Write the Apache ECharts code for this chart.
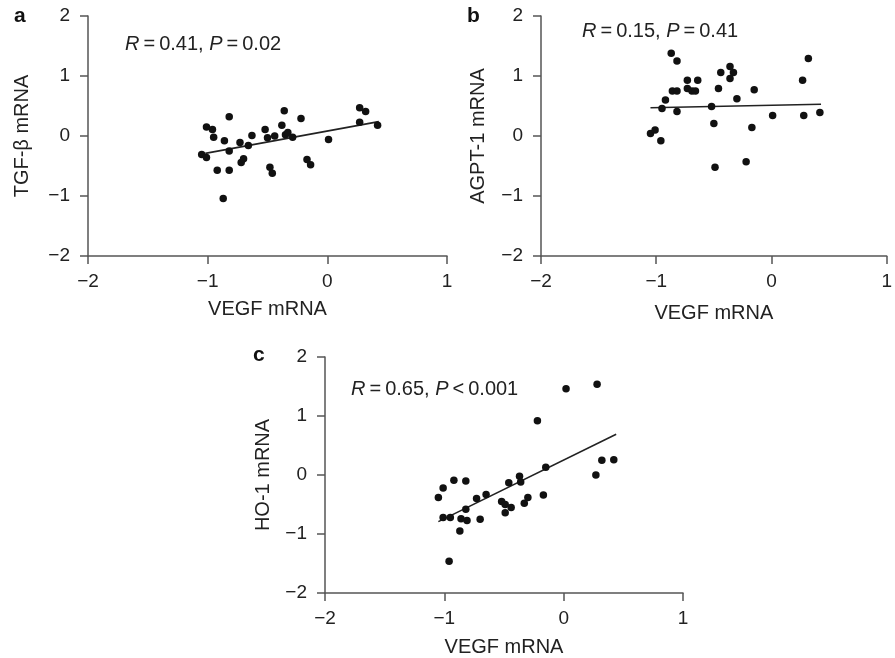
<!DOCTYPE html>
<html>
<head>
<meta charset="utf-8">
<script src="https://cdn.jsdelivr.net/npm/echarts@6/dist/echarts.min.js"></script>
<style>html,body{margin:0;padding:0;background:#fff}#chart{width:895px;height:658px}</style>
</head>
<body>
<div id="chart"></div>
<script>
// Panel a: TGF-beta vs VEGF
const xA = [-1.05,-1.01,-1.01,-0.96,-0.95,-0.92,-0.86,-0.87,-0.82,-0.82,-0.82,-0.73,-0.72,-0.70,-0.66,-0.63,-0.52,-0.50,-0.48,-0.46,-0.44,-0.38,-0.36,-0.35,-0.33,-0.29,-0.22,-0.17,-0.14,0.01,0.27,0.32,0.27,0.42];
const yA = [-0.31,-0.36,0.15,0.11,-0.02,-0.57,-0.08,-1.04,0.32,-0.25,-0.57,-0.11,-0.44,-0.38,-0.16,0.01,0.11,-0.03,-0.52,-0.62,0.00,0.18,0.42,0.02,0.06,-0.02,0.29,-0.39,-0.48,-0.06,0.47,0.41,0.23,0.18];
const fitXA = [-1.02, 0.43];
const fitYA = [-0.29, 0.24];

// Panel b: AGPT-1 vs VEGF
const xB = [-1.05,-1.01,-0.96,-0.95,-0.92,-0.87,-0.82,-0.86,-0.82,-0.82,-0.73,-0.73,-0.69,-0.66,-0.64,-0.52,-0.50,-0.49,-0.46,-0.44,-0.36,-0.36,-0.33,-0.30,-0.22,-0.17,-0.15,0.01,0.27,0.28,0.32,0.42];
const yB = [0.04,0.10,-0.08,0.46,0.60,1.38,1.25,0.75,0.75,0.41,0.93,0.79,0.75,0.75,0.93,0.49,0.21,-0.52,0.79,1.06,1.16,0.96,1.06,0.62,-0.43,0.14,0.77,0.34,0.93,0.34,1.29,0.39];
const fitXB = [-1.05, 0.43];
const fitYB = [0.47, 0.53];

// Panel c: HO-1 vs VEGF
const xC = [-1.05,-1.01,-1.01,-0.95,-0.96,-0.92,-0.86,-0.87,-0.82,-0.82,-0.81,-0.73,-0.70,-0.65,-0.52,-0.49,-0.49,-0.46,-0.44,-0.37,-0.36,-0.33,-0.30,-0.22,-0.17,-0.15,0.02,0.27,0.28,0.32,0.42];
const yC = [-0.38,-0.22,-0.72,-0.72,-1.46,-0.09,-0.74,-0.95,-0.10,-0.58,-0.77,-0.40,-0.75,-0.33,-0.45,-0.50,-0.64,-0.13,-0.55,-0.02,-0.12,-0.48,-0.38,0.92,-0.34,0.13,1.46,0.00,1.54,0.25,0.26];
const fitXC = [-1.05, 0.44];
const fitYC = [-0.79, 0.69];

const xTicks = [-2, -1, 0, 1];
const yTicks = [-2, -1, 0, 1, 2];
const panelLetters = ['a', 'b', 'c'];
const yNames = ['TGF-\u03b2 mRNA', 'AGPT-1 mRNA', 'HO-1 mRNA'];
const xName = 'VEGF mRNA';
const statTexts = [
  '{i|R}\u2009=\u20090.41, {i|P}\u2009=\u20090.02',
  '{i|R}\u2009=\u20090.15, {i|P}\u2009=\u20090.41',
  '{i|R}\u2009=\u20090.65, {i|P}\u2009<\u20090.001'
];

const FONT = '"Liberation Sans", Arial, Helvetica, sans-serif';
const AX = '#555';
const TXT = '#222';

const pairs = (xs, ys) => xs.map((x, i) => [x, ys[i]]);
const fmt = v => (v < 0 ? '\u2212' + Math.abs(v) : String(v));

const grids = [
  { left: 88, width: 359, top: 16, height: 240 },
  { left: 541, right: -6, top: 16, height: 240 },
  { left: 325, width: 358, top: 357, height: 239 }
];
const xNameGaps = [43, 47, 44];
const yNameGaps = [56, 53, 52];

function xAxisCfg(i) {
  return {
    gridIndex: i, type: 'value', min: xTicks[0], max: xTicks[xTicks.length - 1], interval: 1,
    name: xName, nameLocation: 'middle', nameGap: xNameGaps[i], nameMoveOverlap: false,
    nameTextStyle: { fontSize: 20, fontFamily: FONT, color: TXT },
    axisLine: { show: true, onZero: false, lineStyle: { color: AX, width: 1.5 } },
    axisTick: { show: true, length: 8, lineStyle: { color: AX, width: 1.5 } },
    axisLabel: { fontSize: 19, fontFamily: FONT, color: TXT, margin: 16, formatter: fmt, showMinLabel: true, showMaxLabel: true, hideOverlap: false },
    splitLine: { show: false }
  };
}
function yAxisCfg(i) {
  return {
    gridIndex: i, type: 'value', min: yTicks[0], max: yTicks[yTicks.length - 1], interval: 1,
    name: yNames[i], nameLocation: 'middle', nameGap: yNameGaps[i], nameMoveOverlap: false,
    nameTextStyle: { fontSize: 20, fontFamily: FONT, color: TXT },
    axisLine: { show: true, onZero: false, lineStyle: { color: AX, width: 1.5 } },
    axisTick: { show: true, length: 8, lineStyle: { color: AX, width: 1.5 } },
    axisLabel: { fontSize: 19, fontFamily: FONT, color: TXT, margin: 18, formatter: fmt, showMinLabel: true, showMaxLabel: true },
    splitLine: { show: false }
  };
}

const scatterData = [pairs(xA, yA), pairs(xB, yB), pairs(xC, yC)];
const fitData = [pairs(fitXA, fitYA), pairs(fitXB, fitYB), pairs(fitXC, fitYC)];

const series = [];
for (let i = 0; i < 3; i++) {
  series.push({
    type: 'line', xAxisIndex: i, yAxisIndex: i, data: fitData[i], showSymbol: false, symbol: 'none',
    lineStyle: { color: '#222', width: 1.6 }, silent: true, z: 2, animation: false
  });
  series.push({
    type: 'scatter', xAxisIndex: i, yAxisIndex: i, data: scatterData[i], symbolSize: 7.5,
    itemStyle: { color: '#111', opacity: 1 }, z: 3, animation: false
  });
}

const letterPos = [[21, 18], [474, 18], [260, 357]];
const statPos = [[125, 45], [582, 32], [351, 390]];
const graphic = [];
for (let i = 0; i < 3; i++) {
  graphic.push({
    type: 'text', left: letterPos[i][0] - 7, top: letterPos[i][1] - 12,
    style: { text: panelLetters[i], font: 'bold 21px ' + FONT, fill: '#111' }
  });
  graphic.push({
    type: 'text', left: statPos[i][0], top: statPos[i][1] - 11,
    style: {
      text: statTexts[i], fontSize: 20, fontFamily: FONT, fill: TXT,
      rich: { i: { fontStyle: 'italic', fontSize: 20, fontFamily: FONT, fill: TXT, color: TXT } }
    }
  });
}

const chart = echarts.init(document.getElementById('chart'), null, { renderer: 'canvas' });
chart.setOption({
  animation: false,
  backgroundColor: '#fff',
  grid: grids,
  xAxis: [0, 1, 2].map(xAxisCfg),
  yAxis: [0, 1, 2].map(yAxisCfg),
  series: series,
  graphic: graphic
});
</script>
</body>
</html>
